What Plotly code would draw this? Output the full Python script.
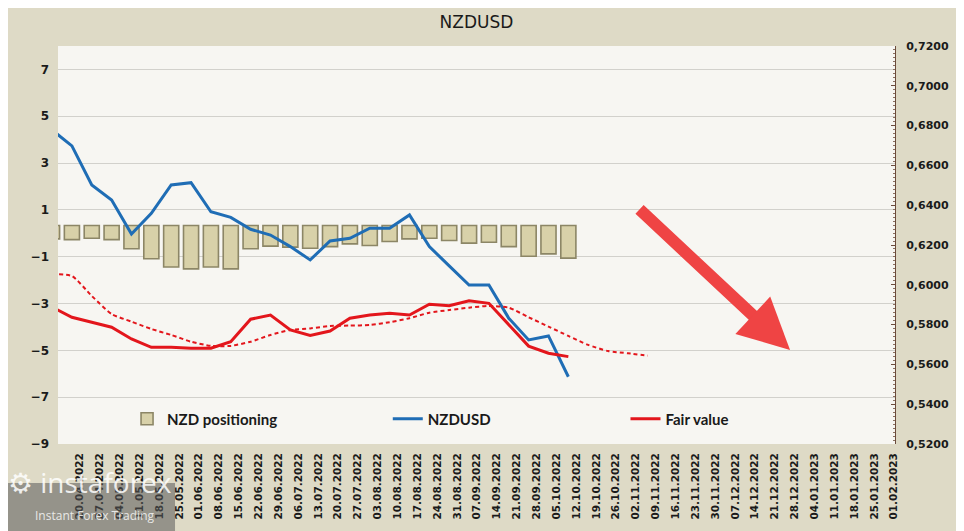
import plotly.graph_objects as go

dates = ["13.04.2022", "20.04.2022", "27.04.2022", "04.05.2022", "11.05.2022", "18.05.2022",
         "25.05.2022", "01.06.2022", "08.06.2022", "15.06.2022", "22.06.2022", "29.06.2022",
         "06.07.2022", "13.07.2022", "20.07.2022", "27.07.2022", "03.08.2022", "10.08.2022",
         "17.08.2022", "24.08.2022", "31.08.2022", "07.09.2022", "14.09.2022", "21.09.2022",
         "28.09.2022", "05.10.2022", "12.10.2022", "19.10.2022", "26.10.2022", "02.11.2022",
         "09.11.2022", "16.11.2022", "23.11.2022", "30.11.2022", "07.12.2022", "14.12.2022",
         "21.12.2022", "28.12.2022", "04.01.2023", "11.01.2023", "18.01.2023", "25.01.2023",
         "01.02.2023"]

# NZD positioning (left axis), bars hang from a common top
bar_base = 0.33
nzd_positioning = [-0.24, -0.27, -0.21, -0.27, -0.66, -1.09, -1.44, -1.52, -1.44, -1.52,
                   -0.66, -0.55, -0.59, -0.64, -0.57, -0.45, -0.52, -0.35, -0.24, -0.21,
                   -0.31, -0.42, -0.38, -0.57, -0.98, -0.88, -1.06]

# right axis
nzdusd = [0.6778, 0.6698, 0.6502, 0.6426, 0.6255, 0.6359, 0.6502, 0.6513, 0.6367, 0.6339,
          0.6279, 0.6250, 0.6192, 0.6125, 0.6220, 0.6234, 0.6284, 0.6284, 0.6351, 0.6192,
          0.6095, 0.5999, 0.5999, 0.5832, 0.5723, 0.5743, 0.5538]

fair_value = [0.5888, 0.5837, 0.5812, 0.5787, 0.5728, 0.5686, 0.5686, 0.5681, 0.5681, 0.5714,
              0.5827, 0.5848, 0.5773, 0.5746, 0.5768, 0.5832, 0.5848, 0.5857, 0.5848, 0.5902,
              0.5895, 0.5920, 0.5907, 0.5798, 0.5692, 0.5656, 0.5639]

fair_value_trend = [0.6054, 0.6044, 0.5944, 0.5853, 0.5815, 0.5778, 0.5748, 0.5714, 0.5693, 0.5693,
                    0.5714, 0.5748, 0.5773, 0.5781, 0.5793, 0.5795, 0.5798, 0.5812, 0.5832, 0.5860,
                    0.5873, 0.5885, 0.5894, 0.5885, 0.5837, 0.5790, 0.5743, 0.5698, 0.5667, 0.5656,
                    0.5644]

tick_font = dict(family="DejaVu Sans", size=11, color="#1a1a1a", weight="bold")
legend_font = dict(family="Lato", size=15, color="#1a1a1a", weight="bold")

fig = go.Figure()

fig.add_trace(go.Bar(
    x=dates[:len(nzd_positioning)],
    y=[v - bar_base for v in nzd_positioning],
    base=bar_base,
    width=0.76,
    name="NZD positioning",
    marker=dict(color="#d8d1a9", line=dict(color="#8c8666", width=1.6)),
    legend="legend",
    yaxis="y",
))

fig.add_trace(go.Scatter(
    x=dates[:len(nzdusd)], y=nzdusd, mode="lines", name="NZDUSD",
    line=dict(color="#1f6db5", width=3),
    legend="legend2", yaxis="y2",
))

fig.add_trace(go.Scatter(
    x=dates[:len(fair_value)], y=fair_value, mode="lines", name="Fair value",
    line=dict(color="#e3161c", width=3),
    legend="legend3", yaxis="y2",
))

fig.add_trace(go.Scatter(
    x=dates[:len(fair_value_trend)], y=fair_value_trend, mode="lines",
    line=dict(color="#e3161c", width=2, dash="4px,3px", shape="spline", smoothing=0.6),
    showlegend=False, yaxis="y2",
))

# big red arrow (tip position in paper coords, tail as pixel offset)
fig.add_annotation(
    x=0.8746, y=0.236, xref="paper", yref="paper",
    ax=-152, ay=-142, text="", showarrow=True,
    arrowhead=2, arrowsize=0.85, arrowwidth=12, arrowcolor="#ef4444",
)

# watermark box at bottom left
fig.add_shape(type="rect", xref="paper", yref="paper",
              x0=-0.0693, x1=0.1398, y0=-0.2186, y1=-0.098,
              fillcolor="rgba(90,90,90,0.55)", line=dict(width=0), layer="above")
fig.add_annotation(x=-0.062, y=-0.148, xref="paper", yref="paper", xanchor="left",
                   text="⚙ instaforex", showarrow=False,
                   font=dict(family="Open Sans", size=28, color="rgba(255,255,255,0.85)"))
fig.add_annotation(x=-0.03, y=-0.205, xref="paper", yref="paper", xanchor="left",
                   text="Instant Forex Trading", showarrow=False,
                   font=dict(family="Open Sans", size=12, color="rgba(255,255,255,0.8)"))

# page body has an 8px margin, so margins are shifted to keep the plot area in place
fig.update_layout(
    width=964, height=531,
    margin=dict(l=50, r=77, t=38, b=95),
    paper_bgcolor="#dedac6",
    plot_bgcolor="#f7f6f2",
    separators=",.",
    title=dict(text="NZDUSD", x=0.5, xref="paper", y=1 - 14 / 531, yref="container",
               xanchor="center", yanchor="middle",
               font=dict(family="DejaVu Sans", size=17, color="#1a1a1a")),
    xaxis=dict(type="category", categoryorder="array", categoryarray=dates,
               range=[0.3, 42.45], tickmode="array", tickvals=dates, tickangle=-90,
               tickfont=dict(family="DejaVu Sans", size=10.5, color="#1a1a1a", weight="bold"),
               showgrid=False, ticks="", ticklabelshift=8, ticklabelstandoff=6),
    yaxis=dict(range=[-9, 8], tick0=-9, dtick=2, gridcolor="#d2d1cc", gridwidth=1,
               zeroline=False, tickfont=dict(family="DejaVu Sans", size=12, color="#1a1a1a",
                                            weight="bold"),
               ticklabelstandoff=8),
    yaxis2=dict(overlaying="y", side="right", range=[0.52, 0.72], tick0=0.52, dtick=0.02,
                tickformat=".4f", showgrid=False, zeroline=False, showline=True,
                linecolor="#6b4b3b", linewidth=1, ticks="inside", ticklen=4,
                tickcolor="#6b4b3b", tickfont=tick_font, ticklabelstandoff=8,
                minor=dict(dtick=0.002, ticks="inside", ticklen=2, tickcolor="#8a7060",
                           showgrid=False)),
    legend=dict(x=0.0825, y=0.0628, xanchor="left", yanchor="middle",
                bgcolor="rgba(0,0,0,0)", font=legend_font),
    legend2=dict(x=0.394, y=0.0628, xanchor="left", yanchor="middle",
                 bgcolor="rgba(0,0,0,0)", font=legend_font),
    legend3=dict(x=0.678, y=0.0628, xanchor="left", yanchor="middle",
                 bgcolor="rgba(0,0,0,0)", font=legend_font),
)

fig.write_html("out.html")
